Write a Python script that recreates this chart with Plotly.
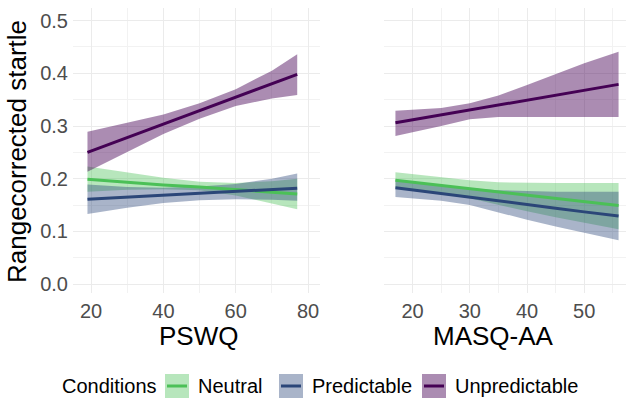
import plotly.graph_objects as go

# ---- data ----
conditions = ["Neutral", "Predictable", "Unpredictable"]
line_colors = {"Neutral": "#4BC057", "Predictable": "#2B4678", "Unpredictable": "#440154"}
band_colors = {"Neutral": "rgba(75,192,87,0.40)", "Predictable": "rgba(40,67,120,0.40)",
               "Unpredictable": "rgba(68,1,84,0.45)"}

pswq_x = [19, 30, 40, 50, 60, 70, 77]
pswq_fit = {
    "Neutral":       [0.199, 0.193, 0.188, 0.184, 0.179, 0.174, 0.171],
    "Predictable":   [0.161, 0.165, 0.168, 0.172, 0.175, 0.179, 0.182],
    "Unpredictable": [0.250, 0.278, 0.304, 0.329, 0.355, 0.380, 0.398],
}
pswq_upper = {
    "Neutral":       [0.223, 0.212, 0.202, 0.194, 0.192, 0.195, 0.200],
    "Predictable":   [0.189, 0.184, 0.183, 0.185, 0.190, 0.200, 0.210],
    "Unpredictable": [0.289, 0.307, 0.322, 0.343, 0.370, 0.405, 0.436],
}
pswq_lower = {
    "Neutral":       [0.175, 0.179, 0.180, 0.178, 0.168, 0.153, 0.142],
    "Predictable":   [0.133, 0.145, 0.154, 0.159, 0.161, 0.160, 0.158],
    "Unpredictable": [0.213, 0.250, 0.285, 0.314, 0.338, 0.352, 0.359],
}

masq_x = [17, 25, 30, 35, 40, 45, 50, 56]
masq_fit = {
    "Neutral":       [0.197, 0.187, 0.181, 0.175, 0.169, 0.163, 0.157, 0.149],
    "Predictable":   [0.183, 0.172, 0.166, 0.158, 0.151, 0.144, 0.137, 0.129],
    "Unpredictable": [0.306, 0.321, 0.330, 0.340, 0.349, 0.358, 0.368, 0.379],
}
masq_upper = {
    "Neutral":       [0.212, 0.202, 0.197, 0.193, 0.192, 0.192, 0.192, 0.192],
    "Predictable":   [0.198, 0.188, 0.182, 0.178, 0.176, 0.175, 0.175, 0.175],
    "Unpredictable": [0.329, 0.334, 0.343, 0.358, 0.378, 0.398, 0.419, 0.441],
}
masq_lower = {
    "Neutral":       [0.182, 0.172, 0.163, 0.150, 0.138, 0.127, 0.116, 0.104],
    "Predictable":   [0.165, 0.158, 0.150, 0.136, 0.122, 0.109, 0.097, 0.083],
    "Unpredictable": [0.281, 0.300, 0.313, 0.317, 0.317, 0.317, 0.317, 0.317],
}

y_ticks = [0.0, 0.1, 0.2, 0.3, 0.4, 0.5]
pswq_ticks = [20, 40, 60, 80]
masq_ticks = [20, 30, 40, 50]

FONT = "Liberation Sans, Arial, sans-serif"

fig = go.Figure()

def add_panel(xs, fit, up, lo, xa, ya):
    for c in conditions:
        fig.add_trace(go.Scatter(
            x=xs + xs[::-1], y=up[c] + lo[c][::-1], fill="toself",
            fillcolor=band_colors[c], line=dict(width=0), mode="lines",
            hoverinfo="skip", showlegend=False, xaxis=xa, yaxis=ya))
    for c in conditions:
        fig.add_trace(go.Scatter(
            x=xs, y=fit[c], mode="lines", line=dict(color=line_colors[c], width=3),
            showlegend=False, xaxis=xa, yaxis=ya))

add_panel(pswq_x, pswq_fit, pswq_upper, pswq_lower, "x", "y")
add_panel(masq_x, masq_fit, masq_upper, masq_lower, "x2", "y2")

# ---- layout geometry (pixels) ----
W, H = 628, 399
L, R, T, B = 73, 2, 8, 106
pw, ph = W - L - R, H - T - B

def px(xp):
    return (xp - L) / pw

def py(yp):
    return (H - B - yp) / ph

grid = dict(showgrid=True, gridcolor="#EBEBEB", gridwidth=1.1, zeroline=False,
            showline=False, ticks="", automargin=False,
            tickfont=dict(family=FONT, size=20, color="#4D4D4D"))
minor = dict(showgrid=True, gridcolor="#F2F2F2", gridwidth=0.6)

annotations = [
    dict(text="Rangecorrected startle", x=px(17), y=py(152), textangle=-90,
         font=dict(size=26, color="black")),
    dict(text="PSWQ", x=px(198), y=py(336), font=dict(size=26, color="black")),
    dict(text="MASQ-AA", x=px(493), y=py(336), font=dict(size=26, color="black")),
    dict(text="Conditions", x=px(60), y=py(386), xanchor="left",
         font=dict(size=20, color="black")),
]
shapes = []
legend_items = [("Neutral", 165), ("Predictable", 279), ("Unpredictable", 422)]
for name, x0 in legend_items:
    shapes.append(dict(type="rect", xref="paper", yref="paper",
                       x0=px(x0), x1=px(x0 + 24), y0=py(398), y1=py(374),
                       fillcolor=band_colors[name], line=dict(width=0)))
    shapes.append(dict(type="line", xref="paper", yref="paper",
                       x0=px(x0 + 2), x1=px(x0 + 22), y0=py(386), y1=py(386),
                       line=dict(color=line_colors[name], width=3)))
    annotations.append(dict(text=name, x=px(x0 + 31), y=py(386), xanchor="left",
                            font=dict(size=20, color="black")))
for a in annotations:
    a.update(xref="paper", yref="paper", showarrow=False,
             yanchor=a.get("yanchor", "middle"), xanchor=a.get("xanchor", "center"))

fig.update_layout(
    width=W, height=H,
    margin=dict(l=L, r=R, t=T, b=B, autoexpand=False),
    paper_bgcolor="white", plot_bgcolor="white",
    font=dict(family=FONT, color="black"),
    showlegend=False,
    xaxis=dict(domain=[0, px(320)], range=[15.0, 83.3], tickvals=pswq_ticks,
               minor=dict(dtick=10, tick0=0, **minor), ticklabelstandoff=4, **grid),
    xaxis2=dict(domain=[px(384), 1], range=[15.0, 57.3], tickvals=masq_ticks, anchor="y2",
                minor=dict(dtick=5, tick0=0, **minor), ticklabelstandoff=4, **grid),
    yaxis=dict(range=[-0.017, 0.524], tickvals=y_ticks, tickformat=".1f",
               minor=dict(dtick=0.05, tick0=0, **minor), ticklabelstandoff=4, **grid),
    yaxis2=dict(range=[-0.017, 0.524], tickvals=y_ticks, showticklabels=False, anchor="x2",
                minor=dict(dtick=0.05, tick0=0, **minor), **grid),
    annotations=annotations,
    shapes=shapes,
)
fig.write_html("out.html", config={"displayModeBar": False},
               post_script="document.body.style.margin='0';document.body.style.padding='0';")
